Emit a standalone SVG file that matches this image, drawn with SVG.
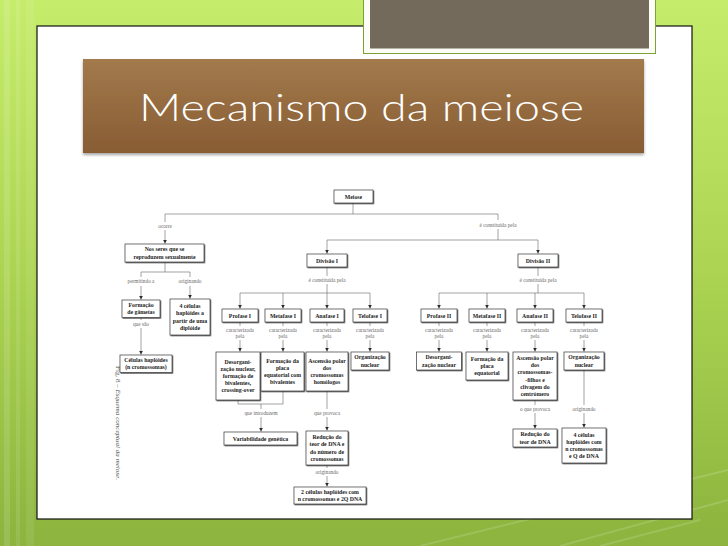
<svg xmlns="http://www.w3.org/2000/svg" width="728" height="546" viewBox="0 0 728 546">
<defs>
<linearGradient id="bg" x1="0" y1="0" x2="0" y2="1">
<stop offset="0" stop-color="#c6ec6c"/>
<stop offset="0.5" stop-color="#acd452"/>
<stop offset="1" stop-color="#8cb43e"/>
</linearGradient>
<linearGradient id="tb" x1="0" y1="0" x2="0" y2="1">
<stop offset="0" stop-color="#a27a4c"/>
<stop offset="1" stop-color="#885c33"/>
</linearGradient>
<filter id="sh" x="-10%" y="-10%" width="130%" height="140%">
<feDropShadow dx="0.8" dy="0.9" stdDeviation="0.25" flood-color="#333" flood-opacity="0.8"/>
</filter>
<filter id="tsh" x="-5%" y="-5%" width="110%" height="115%">
<feDropShadow dx="0" dy="2" stdDeviation="1.5" flood-color="#000" flood-opacity="0.35"/>
</filter>
<marker id="ah" viewBox="0 0 6 6" refX="6" refY="3" markerWidth="3.6" markerHeight="3.6" orient="auto" markerUnits="userSpaceOnUse">
<path d="M0,0 L6,3 L0,6 z" fill="#2a2a2a"/>
</marker>
</defs>
<style>
.nd rect{fill:#fff;stroke:#3a3a3a;stroke-width:0.7;filter:url(#sh)}
.nd text{font-family:"Liberation Serif",serif;font-weight:bold;font-size:5.8px;fill:#222;text-anchor:middle}
.lb{font-family:"Liberation Serif",serif;font-size:5.3px;fill:#6a6a6a;text-anchor:middle}
#connectors path{stroke:#666;stroke-width:0.6;fill:none}
#connectors path.a{marker-end:url(#ah)}
</style>

<!-- slide background -->
<rect x="0" y="0" width="728" height="546" fill="url(#bg)"/>
<rect x="4" y="0" width="6" height="546" fill="#fff" opacity="0.12"/>
<rect x="16" y="0" width="4" height="546" fill="#fff" opacity="0.1"/>
<rect x="26" y="0" width="8" height="546" fill="#fff" opacity="0.08"/>
<path d="M420,546 L728,470 M560,546 L728,500 M600,546 L700,520" stroke="#fff" stroke-opacity="0.15" stroke-width="2" fill="none"/>

<!-- white panel -->
<rect x="37" y="26" width="655" height="493" fill="#fff" stroke="#111" stroke-width="1.2"/>

<!-- decorative box -->
<rect x="363.5" y="-2" width="292" height="55.5" fill="#fdfdf8" stroke="#7aa235" stroke-width="1"/>
<rect x="370" y="-2" width="279" height="50.5" fill="#746a5b"/>

<!-- title bar -->
<rect x="83" y="59" width="561" height="94" fill="url(#tb)" filter="url(#tsh)"/>
<text x="139" y="121" font-family="Lato, 'Open Sans', sans-serif" font-weight="300" font-size="38" fill="#fff" textLength="445" lengthAdjust="spacingAndGlyphs">Mecanismo da meiose</text>

<!-- caption -->
<text transform="translate(116,366) rotate(90)" font-family="'Liberation Serif', serif" font-size="7" fill="#555" textLength="114" lengthAdjust="spacingAndGlyphs">Fig. 8 – <tspan font-style="italic">Esquema conceptual da meiose.</tspan></text>

<!-- connectors -->
<g id="connectors">
<path d="M353,203 V214"/>
<path d="M165,214 H498"/>
<path d="M165,214 V222"/>
<path class="a" d="M165,230 V243.6"/>
<path d="M498,214 V220"/>
<path d="M498,229 V240"/>
<path d="M327,240 H538"/>
<path class="a" d="M327,240 V253.6"/>
<path class="a" d="M538,240 V253.6"/>

<path d="M327,267 V276"/>
<path d="M327,284 V293"/>
<path d="M240,293 H370"/>
<path class="a" d="M240,293 V308.6"/>
<path class="a" d="M283,293 V308.6"/>
<path class="a" d="M327,293 V308.6"/>
<path class="a" d="M370,293 V308.6"/>

<path d="M538,267 V276"/>
<path d="M538,284 V293"/>
<path d="M439,293 H584"/>
<path class="a" d="M439,293 V308.6"/>
<path class="a" d="M487,293 V308.6"/>
<path class="a" d="M535,293 V308.6"/>
<path class="a" d="M584,293 V308.6"/>

<path d="M240,322 V326"/><path class="a" d="M240,340 V351.6"/>
<path d="M283,322 V326"/><path class="a" d="M283,340 V351.6"/>
<path d="M327,322 V326"/><path class="a" d="M327,340 V351.6"/>
<path d="M370,322 V326"/><path class="a" d="M370,340 V351.6"/>
<path d="M439,322 V326"/><path class="a" d="M439,340 V351.6"/>
<path d="M487,322 V326"/><path class="a" d="M487,340 V351.6"/>
<path d="M535,322 V326"/><path class="a" d="M535,340 V351.6"/>
<path d="M584,322 V326"/><path class="a" d="M584,340 V351.6"/>

<path d="M165,262 V272"/>
<path d="M141,272 H190"/>
<path d="M141,272 V277"/>
<path class="a" d="M141,286 V299.6"/>
<path d="M190,272 V277"/>
<path class="a" d="M190,286 V298.6"/>
<path d="M141,317.5 V320"/>
<path class="a" d="M141,328 V354.6"/>

<path d="M238,400 V404 H283 V391"/>
<path d="M261,404 V409"/>
<path class="a" d="M261,417 V431.6"/>

<path d="M327,391 V409"/>
<path class="a" d="M327,417 V430.6"/>
<path d="M327,465 V468"/>
<path class="a" d="M327,476 V486.6"/>

<path d="M535,400 V405"/>
<path class="a" d="M535,413 V428.6"/>
<path d="M584,370 V405"/>
<path class="a" d="M584,413 V427.6"/>
</g>

<!-- connector labels -->
<g id="labels">
<text class="lb" x="165" y="227.5">ocorre</text>
<text class="lb" x="498" y="226.5">é constituída pela</text>
<text class="lb" x="327" y="281.5">é constituída pela</text>
<text class="lb" x="538" y="281.5">é constituída pela</text>
<text class="lb" x="141" y="283">permitindo a</text>
<text class="lb" x="190" y="283">originando</text>
<text class="lb" x="141" y="325.5">que são</text>
<text class="lb" x="240" y="332">caracterizada</text><text class="lb" x="240" y="338">pela</text>
<text class="lb" x="283" y="332">caracterizada</text><text class="lb" x="283" y="338">pela</text>
<text class="lb" x="327" y="332">caracterizada</text><text class="lb" x="327" y="338">pela</text>
<text class="lb" x="370" y="332">caracterizada</text><text class="lb" x="370" y="338">pela</text>
<text class="lb" x="439" y="332">caracterizada</text><text class="lb" x="439" y="338">pela</text>
<text class="lb" x="487" y="332">caracterizada</text><text class="lb" x="487" y="338">pela</text>
<text class="lb" x="535" y="332">caracterizada</text><text class="lb" x="535" y="338">pela</text>
<text class="lb" x="584" y="332">caracterizada</text><text class="lb" x="584" y="338">pela</text>
<text class="lb" x="261" y="414.5">que introduzem</text>
<text class="lb" x="327" y="414.5">que provoca</text>
<text class="lb" x="327" y="473.5">originando</text>
<text class="lb" x="535" y="410.5">o que provoca</text>
<text class="lb" x="584" y="410.5">originando</text>
</g>

<!-- nodes -->
<g id="n-meiose" class="nd"><rect x="334" y="190" width="39" height="13"/><text x="353.5" y="198.5">Meiose</text></g>
<g id="n-nosseres" class="nd"><rect x="125" y="244" width="79" height="18"/><text x="164.5" y="251.4">Nos seres que se</text><text x="164.5" y="258.6">reproduzem sexualmente</text></g>
<g id="n-div1" class="nd"><rect x="307" y="254" width="40" height="13"/><text x="327" y="262.5">Divisão I</text></g>
<g id="n-div2" class="nd"><rect x="518" y="254" width="40" height="13"/><text x="538" y="262.5">Divisão II</text></g>
<g id="n-gametas" class="nd"><rect x="122" y="300" width="38" height="17.5"/><text x="141" y="307.2">Formação</text><text x="141" y="314.4">de gâmetas</text></g>
<g id="n-4cel" class="nd"><rect x="170" y="299" width="40" height="36"/><text x="190" y="308.2">4 células</text><text x="190" y="315.4">haplóides a</text><text x="190" y="322.6">partir de uma</text><text x="190" y="329.8">diplóide</text></g>
<g id="n-celhap" class="nd"><rect x="120" y="355" width="52" height="17.5"/><text x="146" y="362.2">Células haplóides</text><text x="146" y="369.4">(n cromossomas)</text></g>

<g id="n-pro1" class="nd"><rect x="222" y="309" width="36" height="13"/><text x="240" y="317.5">Profase I</text></g>
<g id="n-met1" class="nd"><rect x="265" y="309" width="36" height="13"/><text x="283" y="317.5">Metafase I</text></g>
<g id="n-ana1" class="nd"><rect x="310" y="309" width="34" height="13"/><text x="327" y="317.5">Anafase I</text></g>
<g id="n-tel1" class="nd"><rect x="353" y="309" width="34" height="13"/><text x="370" y="317.5">Telofase I</text></g>
<g id="n-pro2" class="nd"><rect x="421" y="309" width="36" height="13"/><text x="439" y="317.5">Profase II</text></g>
<g id="n-met2" class="nd"><rect x="469" y="309" width="36" height="13"/><text x="487" y="317.5">Metafase II</text></g>
<g id="n-ana2" class="nd"><rect x="517" y="309" width="36" height="13"/><text x="535" y="317.5">Anafase II</text></g>
<g id="n-tel2" class="nd"><rect x="566" y="309" width="36" height="13"/><text x="584" y="317.5">Telofase II</text></g>

<g id="n-desorg1" class="nd"><rect x="216" y="352" width="44" height="48"/><text x="238" y="363.6">Desorgani-</text><text x="238" y="370.8">zação nuclear,</text><text x="238" y="378">formação de</text><text x="238" y="385.2">bivalentes,</text><text x="238" y="392.4">crossing-over</text></g>
<g id="n-placa1" class="nd"><rect x="261" y="352" width="43" height="39"/><text x="282.5" y="362.7">Formação da</text><text x="282.5" y="369.9">placa</text><text x="282.5" y="377.1">equatorial com</text><text x="282.5" y="384.3">bivalentes</text></g>
<g id="n-asc1" class="nd"><rect x="306" y="352" width="42" height="39"/><text x="327" y="362.7">Ascensão polar</text><text x="327" y="369.9">dos</text><text x="327" y="377.1">cromossomas</text><text x="327" y="384.3">homólogos</text></g>
<g id="n-org1" class="nd"><rect x="351" y="352" width="38" height="18"/><text x="370" y="359.4">Organização</text><text x="370" y="366.6">nuclear</text></g>
<g id="n-desorg2" class="nd"><rect x="416.5" y="352" width="45" height="18"/><text x="439" y="359.4">Desorgani-</text><text x="439" y="366.6">zação nuclear</text></g>
<g id="n-placa2" class="nd"><rect x="466" y="352" width="42" height="28"/><text x="487" y="360.8">Formação da</text><text x="487" y="368">placa</text><text x="487" y="375.2">equatorial</text></g>
<g id="n-asc2" class="nd"><rect x="513" y="352" width="44" height="48"/><text x="535" y="360">Ascensão polar</text><text x="535" y="367.2">dos</text><text x="535" y="374.4">cromossomas-</text><text x="535" y="381.6">-filhos e</text><text x="535" y="388.8">clivagem do</text><text x="535" y="396">centrómero</text></g>
<g id="n-org2" class="nd"><rect x="564" y="352" width="40" height="18"/><text x="584" y="359.4">Organização</text><text x="584" y="366.6">nuclear</text></g>

<g id="n-var" class="nd"><rect x="224" y="432" width="73" height="13"/><text x="260.5" y="440.5">Variabilidade genética</text></g>
<g id="n-red1" class="nd"><rect x="306" y="431" width="42" height="34"/><text x="327" y="439.2">Redução do</text><text x="327" y="446.4">teor de DNA e</text><text x="327" y="453.6">do número de</text><text x="327" y="460.8">cromossomas</text></g>
<g id="n-2cel" class="nd"><rect x="294" y="487" width="72" height="17"/><text x="330" y="493.9">2 células haplóides com</text><text x="330" y="501.1">n cromossomas e 2Q DNA</text></g>
<g id="n-red2" class="nd"><rect x="513" y="429" width="44" height="18"/><text x="535" y="436.4">Redução do</text><text x="535" y="443.6">teor de DNA</text></g>
<g id="n-4cel2" class="nd"><rect x="562" y="428" width="44" height="35"/><text x="584" y="436.7">4 células</text><text x="584" y="443.9">haplóides com</text><text x="584" y="451.1">n cromossomas</text><text x="584" y="458.3">e Q de DNA</text></g>
</svg>
